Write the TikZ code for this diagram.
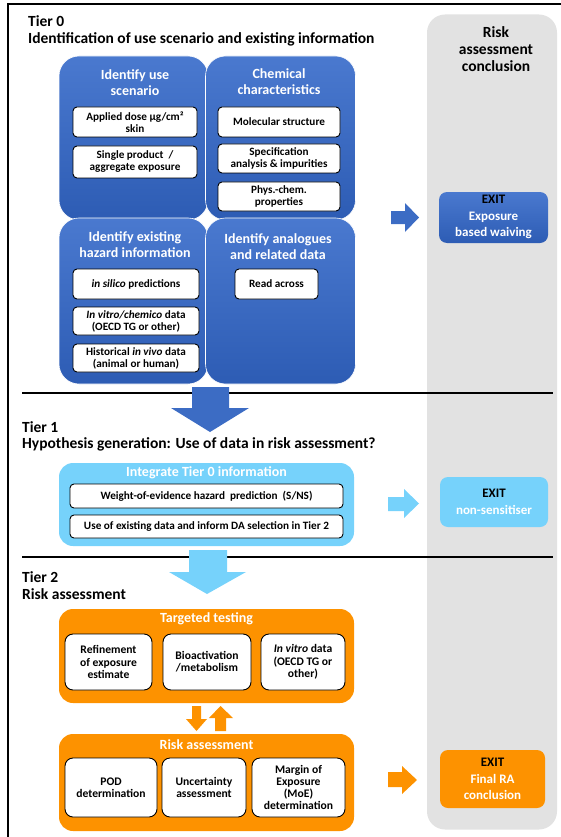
\documentclass[tikz,border=0pt]{standalone}
\usepackage{fontspec}
\setmainfont{Carlito}
\definecolor{bluetop}{RGB}{74,121,207}
\definecolor{bluebot}{RGB}{45,92,180}
\definecolor{lblue}{RGB}{118,210,251}
\definecolor{orng}{RGB}{253,146,0}
\definecolor{panel}{RGB}{226,226,226}
\definecolor{blueA}{RGB}{60,108,196}
\begin{document}
\begin{tikzpicture}[x=1pt,y=-1pt,
  bigbox/.style={draw=white, line width=0.6pt, rounded corners=20pt, top color=bluetop, bottom color=bluebot, inner sep=0pt},
  wbox/.style={draw=black, line width=0.9pt, fill=white, rounded corners=4pt, align=center, inner sep=1pt, font=\bfseries\fontsize{11.2}{12}\selectfont},
  obox/.style={draw=black, line width=0.9pt, fill=white, rounded corners=8pt, align=center, inner sep=1pt, font=\bfseries\fontsize{11.6}{12.3}\selectfont},
  head/.style={text=white, align=center, font=\bfseries\fontsize{14}{16}\selectfont, inner sep=0pt},
  tier/.style={anchor=west, align=left, font=\bfseries\fontsize{15.5}{18}\selectfont, inner sep=0pt},
  exitbox/.style={rounded corners=8pt, inner sep=0pt},
  exittxt/.style={align=center, font=\bfseries\fontsize{13}{16.5}\selectfont, inner sep=0pt}
]
\useasboundingbox (0,0) rectangle (560,837);
% frame
\draw[line width=1.6pt] (562,4) -- (8,4) -- (8,840);
% grey conclusion panel
\node[fill=panel, rounded corners=18pt, minimum width=130pt, minimum height=815pt, inner sep=0pt] (panel) at (492,422) {};
\node[exittxt, text=black, font=\bfseries\fontsize{15.5}{17}\selectfont] (panelt) at (496,49) {Risk\\assessment\\conclusion};

% separators
\draw[line width=1.4pt] (22,393) coordinate (s1a) -- (553,393) coordinate (s1b);
\draw[line width=1.4pt] (22,557) coordinate (s2a) -- (553,557) coordinate (s2b);

% ---------- Tier 0
\node[tier] (t0) at (28,21) {Tier 0};
\node[tier] (t0b) at (28,39) {Identification of use scenario and existing information};

\node[bigbox, minimum width=149pt, minimum height=164pt] (useScen) at (133.5,138) {};
\node[bigbox, minimum width=150pt, minimum height=164pt] (chem) at (280.5,138) {};
\node[bigbox, minimum width=149pt, minimum height=166pt] (hazard) at (133.5,301) {};
\node[bigbox, minimum width=150pt, minimum height=166pt] (analog) at (280.5,301) {};

\node[head] (h1) at (135,83) {Identify use\\scenario};
\node[head] (h2) at (279,82) {Chemical\\characteristics};
\node[head] (h3) at (135,245) {Identify existing\\hazard information};
\node[head] (h4) at (278,247) {Identify analogues\\and related data};

\node[wbox, minimum width=124pt, minimum height=30pt] (apdose) at (135,122) {Applied dose µg/cm²\\skin};
\node[wbox, minimum width=124pt, minimum height=32pt] (single) at (135,162) {Single product \ /\\aggregate exposure};
\node[wbox, minimum width=122pt, minimum height=30pt] (molec) at (279,122) {Molecular structure};
\node[wbox, minimum width=122pt, minimum height=29pt] (spec) at (279,158.5) {Specification\\analysis \& impurities};
\node[wbox, minimum width=122pt, minimum height=29pt] (phys) at (279,196.5) {Phys.-chem.\\properties};
\node[wbox, minimum width=126pt, minimum height=30pt] (insil) at (136,284) {\textit{in silico} predictions};
\node[wbox, minimum width=126pt, minimum height=28pt] (invit) at (136,321) {\textit{In vitro/chemico} data\\(OECD TG or other)};
\node[wbox, minimum width=126pt, minimum height=28pt] (hist) at (136,358) {Historical \textit{in vivo} data\\(animal or human)};
\node[wbox, minimum width=83pt, minimum height=30pt] (read) at (276.5,284) {Read across};

% exit 0
\fill[blueA] (391,211) -- (405,211) -- (405,203) -- (419,217.5) -- (405,232) -- (405,224) -- (391,224) -- cycle;
\node[exitbox, top color=bluetop, bottom color=bluebot, minimum width=109pt, minimum height=51pt] (exit0) at (493.5,217.5) {};
\node[exittxt] (exit0t) at (493.5,217) {\color{black}EXIT\\\color{white}Exposure\\\color{white}based waiving};

% big down arrow blue
\fill[blueA] (192,387) -- (229,387) -- (229,408) -- (249,408) -- (210,432) -- (171,408) -- (192,408) -- cycle;

% ---------- Tier 1
\node[tier] (t1) at (22,427) {Tier 1};
\node[tier] (t1b) at (22,444) {Hypothesis generation: Use of data in risk assessment?};

\node[fill=lblue, rounded corners=14pt, minimum width=295pt, minimum height=83pt, inner sep=0pt] (integ) at (206.5,504.5) {};
\node[head] (h5) at (206.5,473) {Integrate Tier 0 information};
\node[wbox, minimum width=273pt, minimum height=24pt] (woe) at (206.5,496) {Weight-of-evidence hazard \ prediction \ (S/NS)};
\node[wbox, minimum width=273pt, minimum height=23pt] (usex) at (206.5,526.5) {Use of existing data and inform DA selection in Tier 2};

\fill[lblue] (388,497) -- (404,497) -- (404,489) -- (419,503.5) -- (404,518) -- (404,511) -- (388,511) -- cycle;
\node[exitbox, fill=lblue, minimum width=108pt, minimum height=50pt] (exit1) at (494,502) {};
\node[exittxt] (exit1t) at (494,502) {\color{black}EXIT\\\color{white}non-sensitiser};

\fill[lblue] (189,550) -- (227,550) -- (227,572) -- (246,572) -- (207,594) -- (169,572) -- (189,572) -- cycle;

% ---------- Tier 2
\node[tier] (t2) at (22,577) {Tier 2};
\node[tier] (t2b) at (22,594) {Risk assessment};

\node[fill=orng, rounded corners=14pt, minimum width=295pt, minimum height=94pt, inner sep=0pt] (target) at (206.5,656) {};
\node[head] (h6) at (206.5,619) {Targeted testing};
\node[obox, minimum width=87pt, minimum height=56pt] (refine) at (108.5,662) {Refinement\\of exposure\\estimate};
\node[obox, minimum width=88pt, minimum height=56pt] (bioact) at (207,662) {Bioactivation\\/metabolism};
\node[obox, minimum width=84pt, minimum height=56pt] (invit2) at (303,662) {\textit{In vitro} data\\(OECD TG or\\other)};

% small exchange arrows
\fill[orng] (192,706) -- (201,706) -- (201,719) -- (207,719) -- (196.5,731) -- (186,719) -- (192,719) -- cycle;
\fill[orng] (215,731) -- (226,731) -- (226,718) -- (233,718) -- (220.5,706) -- (209,718) -- (215,718) -- cycle;

\node[fill=orng, rounded corners=14pt, minimum width=295pt, minimum height=97pt, inner sep=0pt] (riskA) at (206.5,782.5) {};
\node[head] (h7) at (206.5,745) {Risk assessment};
\node[obox, minimum width=92pt, minimum height=59pt] (pod) at (111,787.5) {POD\\determination};
\node[obox, minimum width=84pt, minimum height=59pt] (unc) at (204,787.5) {Uncertainty\\assessment};
\node[obox, minimum width=93pt, minimum height=59pt] (moe) at (298.5,787.5) {Margin of\\Exposure\\(MoE)\\determination};

\fill[orng] (388,772) -- (402,772) -- (402,766) -- (417,780) -- (402,794) -- (402,787) -- (388,787) -- cycle;
\node[exitbox, fill=orng, minimum width=105pt, minimum height=58pt] (exit2) at (492.5,779) {};
\node[exittxt] (exit2t) at (492.5,779) {\color{black}EXIT\\\color{white}Final RA\\\color{white}conclusion};
\end{tikzpicture}
\end{document}
